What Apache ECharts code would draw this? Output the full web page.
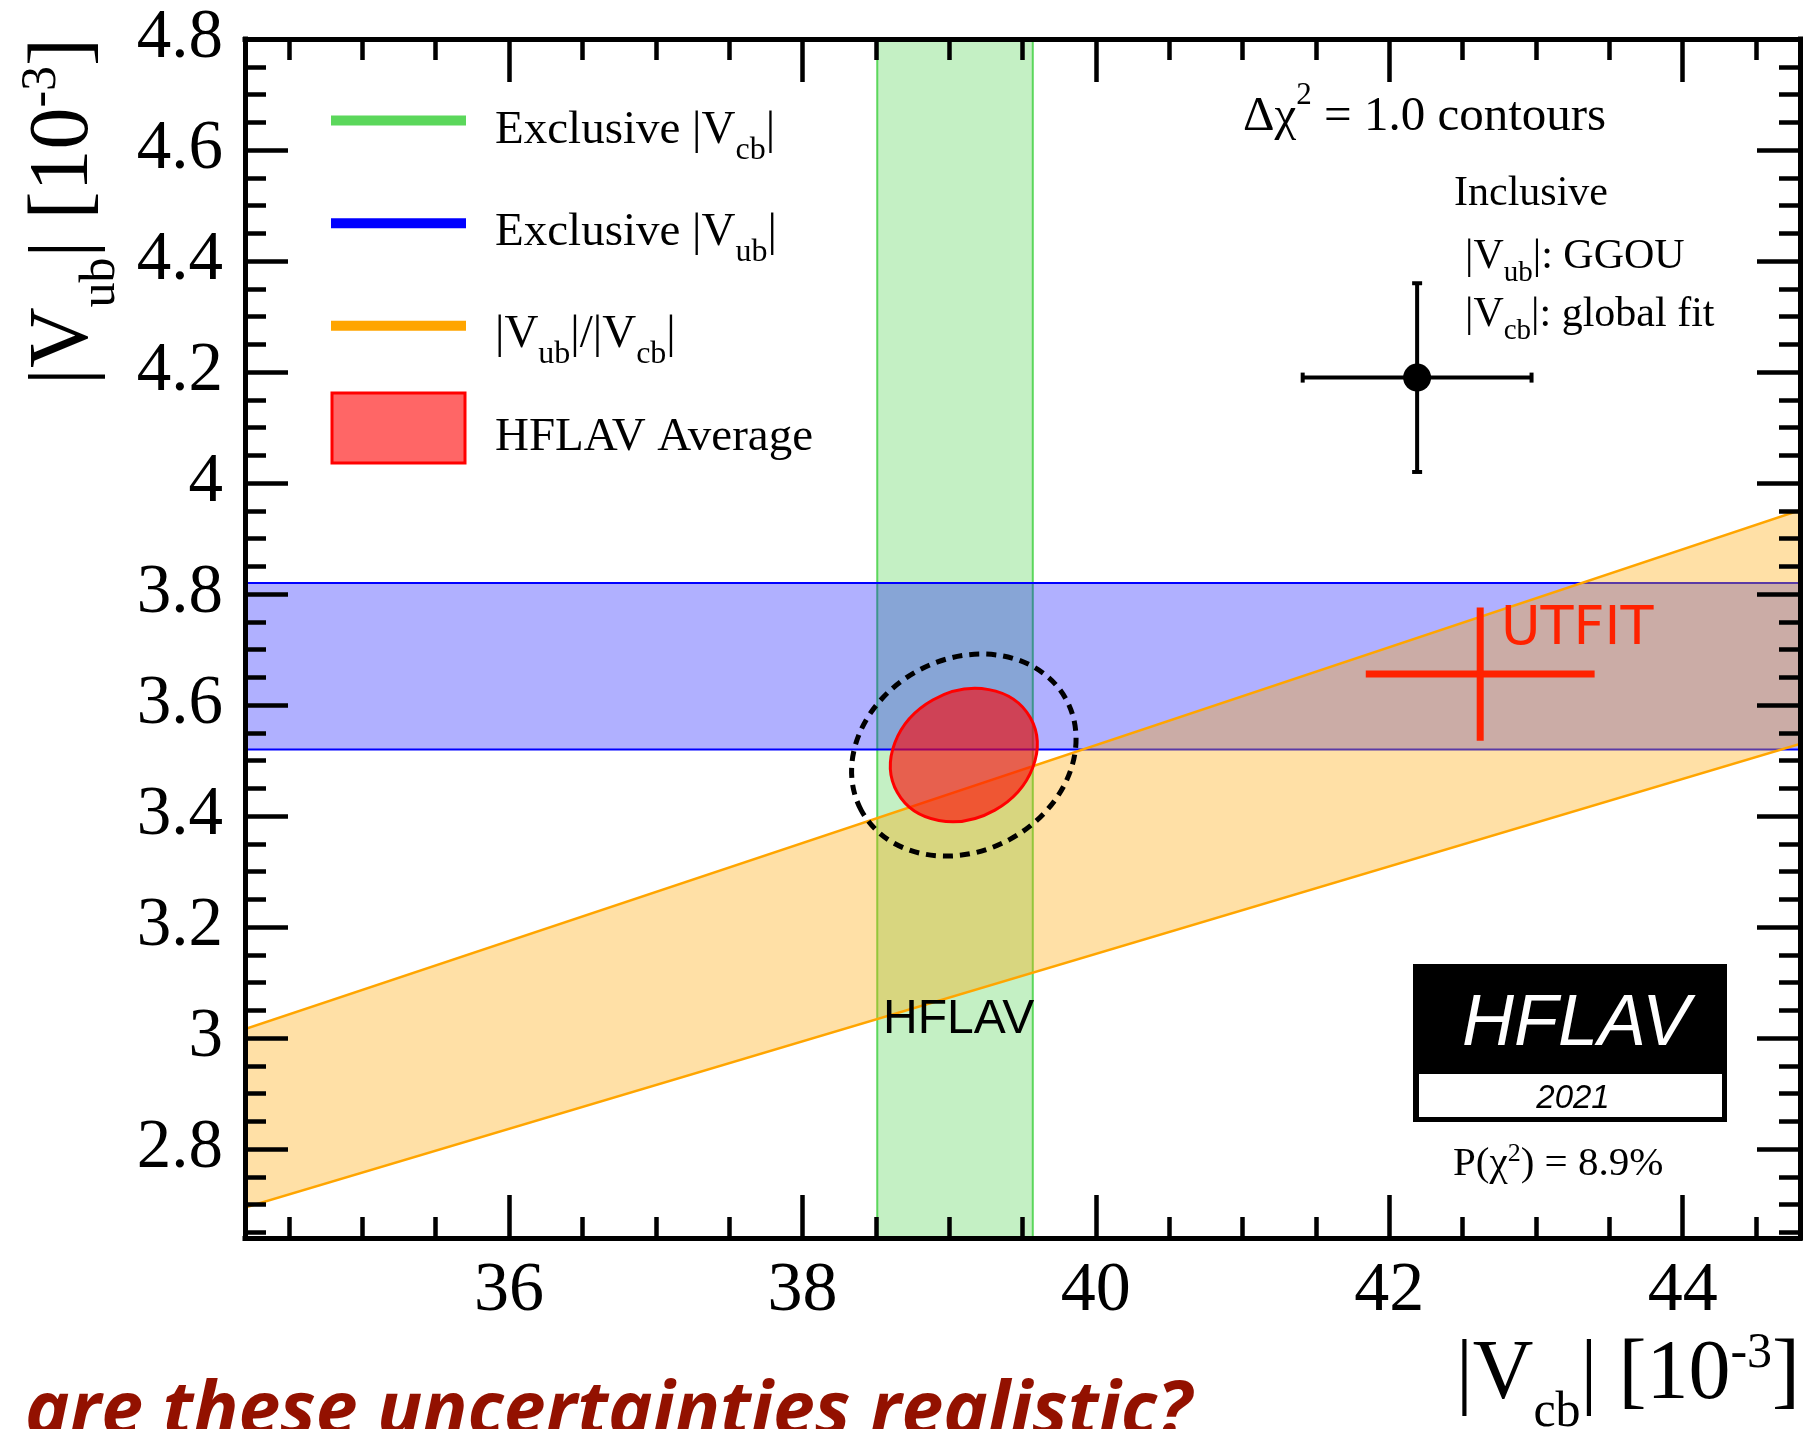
<!DOCTYPE html>
<html>
<head>
<meta charset="utf-8">
<title>|Vub| vs |Vcb|</title>
<script src="https://cdn.jsdelivr.net/npm/echarts@6.0.0/dist/echarts.min.js"></script>
<style>
html, body { margin:0; padding:0; background:#ffffff; }
#chart { width:1817px; height:1429px; }
</style>
</head>
<body>
<div id="chart"></div>
<script>
// ---------------- data ----------------
const xExtent = [34.2, 44.8];                 // |Vcb| [10^-3] axis range
const yExtent = [2.64, 4.8];                  // |Vub| [10^-3] axis range
const xTickLabels = [36, 38, 40, 42, 44];
const yTickLabels = [2.8, 3, 3.2, 3.4, 3.6, 3.8, 4, 4.2, 4.4, 4.6, 4.8];
const exclusiveVcb = [38.51, 39.57];          // band in |Vcb|
const exclusiveVub = [3.52, 3.82];            // band in |Vub|
const ratioVubVcb = [0.0788, 0.0882];         // band in |Vub|/|Vcb|
const hflavAverage = [39.10, 3.51, 0.50, 0.12, 0.16];        // |Vcb|, |Vub|, sigma(Vcb), sigma(Vub), rho
const hflavAverageDashed = [39.10, 3.51, 0.765, 0.182, 0.16]; // dashed contour
const inclusivePoint = [42.19, 4.19, 0.78, 0.17];            // |Vcb|, |Vub|, err(Vcb), err(Vub)
const utfitPoint = [42.62, 3.656, 0.78, 0.12];

// ---------------- helpers ----------------
const SERIF = '"Liberation Serif", "Times New Roman", serif';
const SANS = '"Liberation Sans", Arial, sans-serif';
const MID = 0.3375;

function richFor(family, M, S, down, up, fill) {
  const L = 2 * M;
  const shiftSub = MID * (M - S) + down;
  const shiftSup = MID * (M - S) - up;
  return {
    m: { fontFamily: family, fontSize: M, fill: fill, lineHeight: L },
    b: { fontFamily: family, fontSize: S, fill: fill, lineHeight: L, padding: [2 * shiftSub, 0, 0, 0] },
    p: { fontFamily: family, fontSize: S, fill: fill, lineHeight: L, padding: [0, 0, -2 * shiftSup, 0] }
  };
}

function tickFmt(list) {
  return function (v) {
    for (let i = 0; i < list.length; i++) {
      if (Math.abs(list[i] - v) < 1e-6) return String(list[i]);
    }
    return '';
  };
}

function axisBase(ext, step, showLabel, labelOpt) {
  return {
    type: 'value', min: ext[0], max: ext[1], minInterval: step, maxInterval: step, z: 10,
    axisLine: { show: true, onZero: false, lineStyle: { color: '#000', width: 5, cap: 'square' } },
    axisTick: { show: true, inside: true, length: 43, lineStyle: { color: '#000', width: 4.5 } },
    minorTick: { show: true, splitNumber: 4, length: 21, lineStyle: { color: '#000', width: 4.5 } },
    splitLine: { show: false }, minorSplitLine: { show: false },
    axisLabel: showLabel ? labelOpt : { show: false }
  };
}

function bandVertical(params, api) {
  const x0 = api.value(0), x1 = api.value(1);
  const a = api.coord([x0, yExtent[0]]), b = api.coord([x0, yExtent[1]]);
  const c = api.coord([x1, yExtent[1]]), d = api.coord([x1, yExtent[0]]);
  return { type: 'group', children: [
    { type: 'polygon', shape: { points: [a, b, c, d] }, style: { fill: 'rgba(92,214,92,0.36)' } },
    { type: 'line', shape: { x1: a[0], y1: a[1], x2: b[0], y2: b[1] }, style: { stroke: '#5bd75b', lineWidth: 2 } },
    { type: 'line', shape: { x1: d[0], y1: d[1], x2: c[0], y2: c[1] }, style: { stroke: '#5bd75b', lineWidth: 2 } }
  ] };
}

function bandHorizontal(params, api) {
  const y0 = api.value(0), y1 = api.value(1);
  const a = api.coord([xExtent[0], y0]), b = api.coord([xExtent[1], y0]);
  const c = api.coord([xExtent[1], y1]), d = api.coord([xExtent[0], y1]);
  return { type: 'group', children: [
    { type: 'polygon', shape: { points: [a, b, c, d] }, style: { fill: 'rgba(0,0,255,0.31)' } },
    { type: 'line', shape: { x1: a[0], y1: a[1], x2: b[0], y2: b[1] }, style: { stroke: '#0000ff', lineWidth: 2 } },
    { type: 'line', shape: { x1: d[0], y1: d[1], x2: c[0], y2: c[1] }, style: { stroke: '#0000ff', lineWidth: 2 } }
  ] };
}

function bandRatio(params, api) {
  const rLo = api.value(0), rHi = api.value(1);
  const a = api.coord([xExtent[0], rLo * xExtent[0]]), b = api.coord([xExtent[1], rLo * xExtent[1]]);
  const c = api.coord([xExtent[1], rHi * xExtent[1]]), d = api.coord([xExtent[0], rHi * xExtent[0]]);
  return { type: 'group', children: [
    { type: 'polygon', shape: { points: [a, b, c, d] }, style: { fill: 'rgba(255,165,0,0.35)' } },
    { type: 'line', shape: { x1: a[0], y1: a[1], x2: b[0], y2: b[1] }, style: { stroke: '#ffa500', lineWidth: 2.5 } },
    { type: 'line', shape: { x1: d[0], y1: d[1], x2: c[0], y2: c[1] }, style: { stroke: '#ffa500', lineWidth: 2.5 } }
  ] };
}

function ellipseItem(style) {
  return function (params, api) {
    const cx = api.value(0), cy = api.value(1), sx = api.value(2), sy = api.value(3), rho = api.value(4);
    const c = api.coord([cx, cy]);
    const k = api.size([1, 1]);
    const a11 = Math.pow(sx * k[0], 2), a22 = Math.pow(sy * k[1], 2), a12 = rho * sx * sy * k[0] * k[1];
    const mean = (a11 + a22) / 2, d = Math.sqrt(Math.pow((a11 - a22) / 2, 2) + a12 * a12);
    const theta = 0.5 * Math.atan2(2 * a12, a11 - a22);
    return { type: 'ellipse', x: c[0], y: c[1], rotation: theta,
      shape: { cx: 0, cy: 0, rx: Math.sqrt(mean + d), ry: Math.sqrt(mean - d) }, style: style };
  };
}

function crossItem(color, lw, cap, radius) {
  return function (params, api) {
    const x = api.value(0), y = api.value(1), ex = api.value(2), ey = api.value(3);
    const c = api.coord([x, y]);
    const l = api.coord([x - ex, y]), r = api.coord([x + ex, y]);
    const b = api.coord([x, y - ey]), t = api.coord([x, y + ey]);
    const st = { stroke: color, lineWidth: lw };
    const ch = [
      { type: 'line', shape: { x1: l[0], y1: l[1], x2: r[0], y2: r[1] }, style: st },
      { type: 'line', shape: { x1: b[0], y1: b[1], x2: t[0], y2: t[1] }, style: st }
    ];
    if (cap) {
      ch.push({ type: 'line', shape: { x1: l[0], y1: l[1] - cap, x2: l[0], y2: l[1] + cap }, style: st });
      ch.push({ type: 'line', shape: { x1: r[0], y1: r[1] - cap, x2: r[0], y2: r[1] + cap }, style: st });
      ch.push({ type: 'line', shape: { x1: b[0] - cap, y1: b[1], x2: b[0] + cap, y2: b[1] }, style: st });
      ch.push({ type: 'line', shape: { x1: t[0] - cap, y1: t[1], x2: t[0] + cap, y2: t[1] }, style: st });
    }
    if (radius) ch.push({ type: 'circle', shape: { cx: c[0], cy: c[1], r: radius }, style: { fill: color } });
    return { type: 'group', children: ch };
  };
}

function richText(x, y, text, rich, align, extra) {
  const el = { type: 'text', x: x, y: y, z: 100, silent: true,
    style: { text: text, rich: rich, textAlign: align || 'left', textVerticalAlign: 'middle' } };
  if (extra) Object.assign(el, extra);
  return el;
}

function plainText(x, y, text, font, fill, align) {
  return { type: 'text', x: x, y: y, z: 100, silent: true,
    style: { text: text, font: font, fill: fill, textAlign: align || 'left', textVerticalAlign: 'middle' } };
}

// ---------------- chart ----------------
const chart = echarts.init(document.getElementById('chart'), null, { renderer: 'canvas', width: 1817, height: 1429 });

const legendRich = richFor(SERIF, 47, 32, 15, 0, '#000');
const titleRich = richFor(SERIF, 84, 50, 25, 34, '#000');
const noteRich = richFor(SERIF, 42, 29, 13, 0, '#000');
const deltaRich = richFor(SERIF, 49, 31, 0, 27, '#000');
const probRich = richFor(SERIF, 41, 26, 0, 15, '#000');

const option = {
  backgroundColor: '#ffffff',
  animation: false,
  grid: { left: 245, right: 17, top: 39, bottom: 191, containLabel: false, outerBoundsMode: 'none' },
  xAxis: [
    axisBase(xExtent, 2, true, { show: true, margin: 19, color: '#000', fontFamily: SERIF, fontSize: 70,
      formatter: tickFmt(xTickLabels), showMinLabel: true, showMaxLabel: true }),
    Object.assign(axisBase(xExtent, 2, false), { position: 'top' })
  ],
  yAxis: [
    axisBase(yExtent, 0.2, true, { show: true, margin: 22, color: '#000', fontFamily: SERIF, fontSize: 69,
      formatter: tickFmt(yTickLabels), showMinLabel: true, showMaxLabel: true }),
    Object.assign(axisBase(yExtent, 0.2, false), { position: 'right' })
  ],
  series: [
    { type: 'custom', name: 'Exclusive |Vcb|', z: 2, silent: true, clip: true, renderItem: bandVertical, data: [exclusiveVcb] },
    { type: 'custom', name: 'Exclusive |Vub|', z: 2, silent: true, clip: true, renderItem: bandHorizontal, data: [exclusiveVub] },
    { type: 'custom', name: '|Vub|/|Vcb|', z: 2, silent: true, clip: true, renderItem: bandRatio, data: [ratioVubVcb] },
    { type: 'custom', name: 'HFLAV Average', z: 2, silent: true, clip: true,
      renderItem: ellipseItem({ fill: 'rgba(255,0,0,0.6)', stroke: '#ff0000', lineWidth: 3 }), data: [hflavAverage] },
    { type: 'custom', name: 'HFLAV dashed', z: 2, silent: true, clip: true,
      renderItem: ellipseItem({ fill: 'none', stroke: '#000', lineWidth: 5, lineDash: [10, 7] }), data: [hflavAverageDashed] },
    { type: 'custom', name: 'Inclusive', z: 2, silent: true, clip: true,
      renderItem: crossItem('#000', 4, 5, 14), data: [inclusivePoint] },
    { type: 'custom', name: 'UTFIT', z: 2, silent: true, clip: true,
      renderItem: crossItem('#ff2200', 7, 0, 0), data: [utfitPoint] }
  ],
  graphic: { elements: [
    // legend
    { type: 'line', z: 100, silent: true, shape: { x1: 331, y1: 120.5, x2: 466, y2: 120.5 }, style: { stroke: '#5bd75b', lineWidth: 10 } },
    { type: 'line', z: 100, silent: true, shape: { x1: 331, y1: 223.3, x2: 466, y2: 223.3 }, style: { stroke: '#0000ff', lineWidth: 10 } },
    { type: 'line', z: 100, silent: true, shape: { x1: 331, y1: 325.7, x2: 466, y2: 325.7 }, style: { stroke: '#ffa500', lineWidth: 10 } },
    { type: 'rect', z: 100, silent: true, shape: { x: 332, y: 393, width: 133, height: 70 }, style: { fill: '#ff6666', stroke: '#ff0000', lineWidth: 3 } },
    richText(495, 131, '{m|Exclusive |V}{b|cb}{m||}', legendRich),
    richText(495, 232.6, '{m|Exclusive |V}{b|ub}{m||}', legendRich),
    richText(495, 334.3, '{m||V}{b|ub}{m||/|V}{b|cb}{m||}', legendRich),
    richText(495, 437.6, '{m|HFLAV Average}', legendRich),
    // notes top right
    richText(1243, 117, '{m|\u0394\u03c7}{p|2}{m| = 1.0 contours}', deltaRich),
    richText(1454, 193.5, '{m|Inclusive}', noteRich),
    richText(1465, 256.5, '{m||V}{b|ub}{m||: GGOU}', noteRich),
    richText(1465, 314.5, '{m||V}{b|cb}{m||: global fit}', noteRich),
    // labels inside plot
    plainText(1501, 630.3, 'UTFIT', '54px "DejaVu Sans", sans-serif', '#ff2200'),
    plainText(883, 1019.4, 'HFLAV', '48px ' + SANS, '#000'),
    // logo
    { type: 'rect', z: 100, silent: true, shape: { x: 1413, y: 964, width: 314, height: 158 }, style: { fill: '#000' } },
    { type: 'rect', z: 101, silent: true, shape: { x: 1419, y: 1074, width: 303, height: 43 }, style: { fill: '#fff' } },
    Object.assign(plainText(1462, 1025, 'HFLAV', 'italic 72px ' + SANS, '#fff'), { z: 102 }),
    Object.assign(plainText(1573, 1098.6, '2021', 'italic 33px ' + SANS, '#000', 'center'), { z: 102 }),
    richText(1453, 1164, '{m|P(\u03c7}{p|2}{m|) = 8.9%}', probRich),
    // axis titles
    richText(1800, 1376, '{m||V}{b|cb}{m|| [10}{p|-3}{m|]}', titleRich, 'right'),
    richText(64.7, 38, '{m||V}{b|ub}{m|| [10}{p|-3}{m|]}', titleRich, 'right', { rotation: Math.PI / 2 }),
    // slide caption
    plainText(25, 1414, 'are these uncertainties realistic?', 'italic bold 75px "Open Sans", sans-serif', '#931100')
  ] }
};

chart.setOption(option);
</script>
</body>
</html>
